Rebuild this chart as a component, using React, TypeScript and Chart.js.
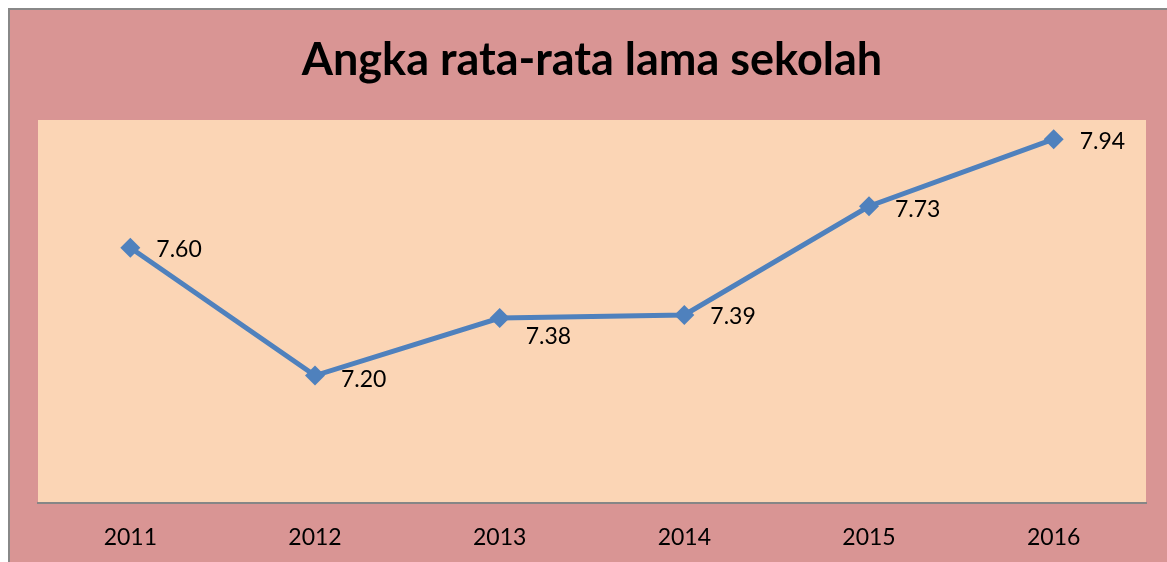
import React, { useEffect, useRef } from "react";
import { Chart, registerables } from "chart.js";

Chart.register(...registerables);

const TITLE = "Angka rata-rata lama sekolah";
const YEARS = ["2011", "2012", "2013", "2014", "2015", "2016"];
const VALUES = [7.6, 7.2, 7.38, 7.39, 7.73, 7.94];
const LABELS = ["7.60", "7.20", "7.38", "7.39", "7.73", "7.94"];
const LABEL_DY = [2, 4, 18, 2, 3, 2];

const FONT = "Lato, 'Open Sans', sans-serif";

const labelPlugin = {
  id: "pointLabels",
  afterDatasetsDraw(chart: any) {
    const ctx = chart.ctx;
    const meta = chart.getDatasetMeta(0);
    ctx.save();
    ctx.font = `23px ${FONT}`;
    ctx.fillStyle = "#000";
    ctx.textAlign = "left";
    ctx.textBaseline = "middle";
    meta.data.forEach((pt: any, i: number) => {
      ctx.fillText(LABELS[i], pt.x + 26, pt.y + LABEL_DY[i]);
    });
    ctx.restore();
  },
};

const areaBg = {
  id: "areaBg",
  beforeDraw(chart: any) {
    const { ctx, chartArea } = chart;
    ctx.save();
    ctx.fillStyle = "#FBD5B5";
    ctx.fillRect(chartArea.left, chartArea.top, chartArea.right - chartArea.left, chartArea.bottom - chartArea.top);
    ctx.restore();
  },
};

export default function App() {
  const ref = useRef<HTMLCanvasElement>(null);
  useEffect(() => {
    if (!ref.current) return;
    const chart = new Chart(ref.current, {
      type: "line",
      data: {
        labels: YEARS,
        datasets: [
          {
            data: VALUES,
            borderColor: "#4F81BD",
            backgroundColor: "#4F81BD",
            borderWidth: 5,
            pointStyle: "rectRot",
            pointRadius: 10,
            pointHoverRadius: 10,
            pointBorderWidth: 0,
            tension: 0,
          },
        ],
      },
      options: {
        animation: false,
        responsive: false,
        layout: { padding: { left: 28, right: 34, top: 0, bottom: 20 } },
        plugins: {
          legend: { display: false },
          tooltip: { enabled: false },
          title: {
            display: true,
            text: TITLE,
            color: "#000",
            font: { family: FONT, size: 45, weight: "bold", lineHeight: 1.2 },
            padding: { top: 23, bottom: 33 },
          },
        },
        scales: {
          x: {
            offset: true,
            grid: { display: false, drawTicks: false },
            border: { display: true, color: "#868686", width: 2 },
            ticks: { color: "#000", font: { family: FONT, size: 23 }, padding: 20 },
          },
          y: {
            display: false,
            min: 6.8,
            max: 8.0,
          },
        },
      },
      plugins: [areaBg, labelPlugin],
    });
    return () => chart.destroy();
  }, []);

  return (
    <div
      style={{
        position: "fixed",
        left: 8,
        top: 8,
        width: 1159,
        height: 554,
        overflow: "hidden",
      }}
    >
      <div
        style={{
          width: 1170,
          height: 581,
          border: "2px solid #888888",
          background: "#D99594",
        }}
      >
        <canvas ref={ref} width={1170} height={581} style={{ display: "block" }} />
      </div>
    </div>
  );
}
